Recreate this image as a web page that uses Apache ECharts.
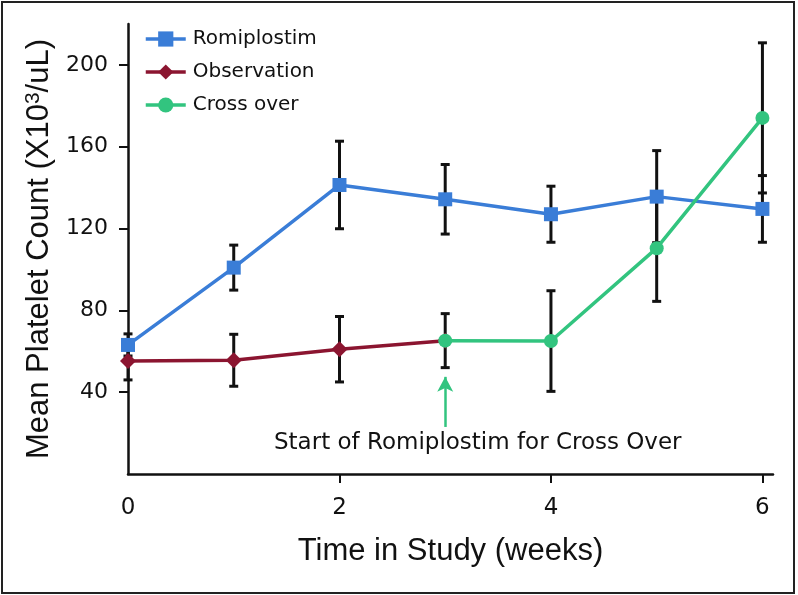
<!DOCTYPE html>
<html>
<head>
<meta charset="utf-8">
<script src="https://cdn.jsdelivr.net/npm/echarts@6/dist/echarts.min.js"></script>
<style>html,body{margin:0;padding:0;background:#fff}#c{width:798px;height:595px}</style>
</head>
<body>
<div id="c"></div>
<script>
// ---- data ----
const seriesNames = ['Romiplostim', 'Observation', 'Cross over'];
const romiWeeks = [0, 1, 2, 3, 4, 5, 6];
const romiMean = [63.1, 100.9, 141.3, 134.3, 127.0, 135.6, 129.6];
const romiErr = [5.4, 11.0, 21.4, 17.0, 13.7, 22.5, 16.3];
const obsWeeks = [0, 1, 2, 3];
const obsMean = [55.3, 55.6, 61.0, 65.2];
const obsErr = [9.3, 12.7, 16.0, null];
const crossWeeks = [3, 4, 5, 6];
const crossMean = [65.2, 65.0, 110.4, 174.1];
const crossErr = [13.2, 24.6, 26.0, 36.7];
const yTickValues = [40, 80, 120, 160, 200];
const xLabelValues = [0, 2, 4, 6];
const xTickValues = [2, 4, 6];
const arrowWeek = 3;
const arrowFrom = 23;
const arrowTo = 47.5;
const annotation = 'Start of Romiplostim for Cross Over';
const xTitle = 'Time in Study (weeks)';

const BLUE = '#3a7dd7', RED = '#8b1530', GREEN = '#32c47f';

function pairs(xs, ys) { return xs.map((x, i) => [x, ys[i]]); }
function errData(xs, ys, es) {
  const out = [];
  xs.forEach((x, i) => { if (es[i] != null) out.push([x, ys[i] - es[i], ys[i] + es[i]]); });
  return out;
}
const allErr = errData(romiWeeks, romiMean, romiErr)
  .concat(errData(obsWeeks, obsMean, obsErr))
  .concat(errData(crossWeeks, crossMean, crossErr));

const chart = echarts.init(document.getElementById('c'), null, {renderer: 'canvas'});
const option = {
  animation: false,
  backgroundColor: '#fff',
  grid: {left: 128, right: 25, top: 24, bottom: 121, containLabel: false},
  legend: {
    orient: 'vertical', left: 139, top: 24,
    itemWidth: 40, itemHeight: 19, itemGap: 13,
    data: seriesNames,
    lineStyle: {width: 3.5},
    textStyle: {fontFamily: 'DejaVu Sans', fontSize: 20, color: '#111', lineHeight: 20, padding: [0, 0, 0, 2]}
  },
  xAxis: {
    type: 'value', min: 0, max: 6.1,
    name: xTitle, nameLocation: 'middle', nameGap: 62,
    nameTextStyle: {fontFamily: 'Liberation Sans', fontSize: 31, color: '#111'},
    axisLine: {lineStyle: {color: '#111', width: 2.5}},
    axisTick: {show: true, length: 9, lineStyle: {color: '#111', width: 2}, customValues: xTickValues},
    axisLabel: {customValues: xLabelValues, margin: 23, fontFamily: 'DejaVu Sans', fontSize: 23, color: '#111'},
    splitLine: {show: false}
  },
  yAxis: {
    type: 'value', min: 0, max: 220,
    name: '{a|Mean Platelet Count (X10}{s|3}{a|/uL)}',
    nameLocation: 'middle', nameGap: 70,
    nameTextStyle: {
      rich: {
        a: {fontFamily: 'Liberation Sans', fontSize: 31, color: '#111', lineHeight: 34},
        s: {fontFamily: 'Liberation Sans', fontSize: 21, color: '#111', verticalAlign: 'top', lineHeight: 34}
      }
    },
    axisLine: {show: true, lineStyle: {color: '#111', width: 2.5}},
    axisTick: {show: true, length: 9, lineStyle: {color: '#111', width: 2}, customValues: yTickValues},
    axisLabel: {customValues: yTickValues, margin: 20, fontFamily: 'DejaVu Sans', fontSize: 22, color: '#111'},
    splitLine: {show: false}
  },
  series: [
    {
      type: 'custom', name: 'err', silent: true, z: 1,
      data: allErr,
      renderItem: function (params, api) {
        const x = api.value(0), lo = api.value(1), hi = api.value(2);
        const pt = api.coord([x, hi]);
        const pb = api.coord([x, lo]);
        const w = 4.5;
        const st = {stroke: '#111', lineWidth: 3};
        return {type: 'group', children: [
          {type: 'line', shape: {x1: pt[0], y1: pt[1], x2: pb[0], y2: pb[1]}, style: st},
          {type: 'line', shape: {x1: pt[0] - w, y1: pt[1], x2: pt[0] + w, y2: pt[1]}, style: st},
          {type: 'line', shape: {x1: pb[0] - w, y1: pb[1], x2: pb[0] + w, y2: pb[1]}, style: st}
        ]};
      }
    },
    {
      type: 'line', name: seriesNames[0], z: 3,
      data: pairs(romiWeeks, romiMean),
      symbol: 'rect', symbolSize: 14, showAllSymbol: true,
      itemStyle: {color: BLUE}, lineStyle: {color: BLUE, width: 3.5}
    },
    {
      type: 'line', name: seriesNames[1], z: 4,
      data: pairs(obsWeeks, obsMean),
      symbol: 'diamond', symbolSize: [16, 16],
      itemStyle: {color: RED}, lineStyle: {color: RED, width: 3.5}
    },
    {
      type: 'line', name: seriesNames[2], z: 5,
      data: pairs(crossWeeks, crossMean),
      symbol: 'circle', symbolSize: 14,
      itemStyle: {color: GREEN}, lineStyle: {color: GREEN, width: 3.5},
      markLine: {
        silent: true, symbol: ['none', 'arrow'], symbolSize: [12, 15],
        label: {show: false},
        lineStyle: {color: GREEN, width: 2.5, type: 'solid'},
        data: [[{coord: [arrowWeek, arrowFrom]}, {coord: [arrowWeek, arrowTo]}]]
      }
    }
  ],
  graphic: [
    {type: 'rect', shape: {x: 2, y: 2, width: 792, height: 591}, style: {fill: 'none', stroke: '#222', lineWidth: 2}, silent: true, z: 100},
    {type: 'text', left: 274, top: 432, style: {text: annotation, fontFamily: 'DejaVu Sans', fontSize: 23, fill: '#111'}}
  ]
};
chart.setOption(option);
</script>
</body>
</html>
